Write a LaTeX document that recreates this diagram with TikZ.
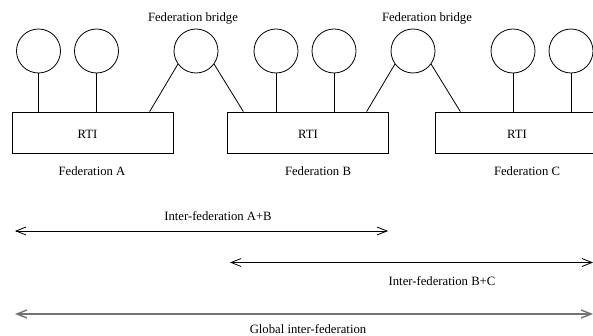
\documentclass[tikz,border=0pt]{standalone}
\usepackage{fontspec}
\setmainfont{Liberation Serif}
\usetikzlibrary{arrows.meta}
\begin{document}
\begin{tikzpicture}[x=1pt,y=-1pt,
  every node/.style={font=\fontsize{12.7}{15}\selectfont},
  rti/.style={draw, line width=0.8pt, rectangle, minimum width=160.5pt, minimum height=41pt, inner sep=0pt},
  fed/.style={draw, line width=0.8pt, circle, minimum size=44pt, inner sep=0pt},
  conn/.style={line width=0.8pt},
  span/.style={line width=0.8pt, {Straight Barb[length=10pt,width=8pt]}-{Straight Barb[length=10pt,width=8pt]}},
  gspan/.style={span, line width=1.4pt, draw=black!55},
  lbl/.style={inner sep=0pt}]
\useasboundingbox (0,0) rectangle (593,336);
\clip (0,0) rectangle (593,336);
% RTI boxes
\node[rti] (A) at (93,132.5) {};
\node[rti] (B) at (308,132.5) {};
\node[rti] (C) at (516,132.5) {};
\node[lbl] (rA) at (87.5,134) {RTI};
\node[lbl] (rB) at (308,134) {RTI};
\node[lbl] (rC) at (517,134) {RTI};
% federates
\node[fed] (a1) at (38.5,51) {};
\node[fed] (a2) at (96.5,51) {};
\node[fed] (br1) at (196,51) {};
\node[fed] (b1) at (276,51) {};
\node[fed] (b2) at (334,51) {};
\node[fed] (br2) at (413,51) {};
\node[fed] (c1) at (513,51) {};
\node[fed] (c2) at (571,51) {};
% connectors
\draw[conn] (a1.south) -- (a1.south |- A.north);
\draw[conn] (a2.south) -- (a2.south |- A.north);
\draw[conn] (b1.south) -- (b1.south |- B.north);
\draw[conn] (b2.south) -- (b2.south |- B.north);
\draw[conn] (c1.south) -- (c1.south |- C.north);
\draw[conn] (c2.south) -- (c2.south |- C.north);
\draw[conn] (br1.216) -- ([xshift=-24pt]A.north east);
\draw[conn] (br1.-36) -- ([xshift=16pt]B.north west);
\draw[conn] (br2.216) -- ([xshift=-22pt]B.north east);
\draw[conn] (br2.-36) -- ([xshift=25pt]C.north west);
% labels
\node[lbl] (lbr1) at (193,18) {Federation bridge};
\node[lbl] (lbr2) at (427,18) {Federation bridge};
\node[lbl] (fA) at (92,171.5) {Federation A};
\node[lbl] (fB) at (318,171.5) {Federation B};
\node[lbl] (fC) at (527,171.5) {Federation C};
% spans
\coordinate (s1a) at (15,231);
\coordinate (s1b) at (388,231);
\coordinate (s2a) at (230,262.5);
\coordinate (s2b) at (593,262.5);
\coordinate (s3a) at (15,314);
\coordinate (s3b) at (593,314);
\draw[span] (s1a) -- (s1b);
\draw[span] (s2a) -- (s2b);
\draw[gspan] (s3a) -- (s3b);
\node[lbl] (t1) at (218,216.5) {Inter-federation A+B};
\node[lbl] (t2) at (442,281) {Inter-federation B+C};
\node[lbl] (t3) at (308,329) {Global inter-federation};
\end{tikzpicture}
\end{document}
